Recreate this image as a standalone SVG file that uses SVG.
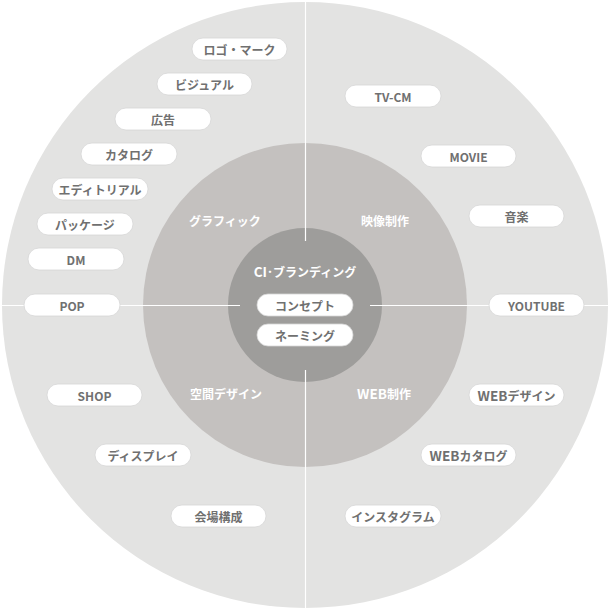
<svg xmlns="http://www.w3.org/2000/svg" width="611" height="612" viewBox="0 0 611 612">
<style>
.pill rect{fill:#ffffff;stroke:#d6d6d6;stroke-width:0.8}
.pill text{font-family:"Noto Sans CJK JP","Noto Sans",sans-serif;font-weight:bold;font-size:12px;fill:#707070;text-anchor:middle;dominant-baseline:central}
.cat{font-family:"Noto Sans CJK JP","Noto Sans",sans-serif;font-weight:bold;font-size:12px;fill:#ffffff;text-anchor:middle;dominant-baseline:central}
.lat{font-size:13.5px}
.conn line{stroke:#ffffff;stroke-width:1.2}
</style>
<rect width="611" height="612" fill="#ffffff"/>
<g id="rings">
<circle cx="305" cy="305" r="303" fill="#e3e3e2"/>
<circle cx="305" cy="305" r="162" fill="#c4c1bf"/>
<circle cx="305" cy="305" r="77" fill="#9e9d9b"/>
</g>
<g class="conn" id="connectors">
<line x1="305.5" y1="0" x2="305.5" y2="241"/>
<line x1="305.5" y1="370" x2="305.5" y2="612"/>
<line x1="0" y1="305.5" x2="240" y2="305.5"/>
<line x1="370" y1="305.5" x2="611" y2="305.5"/>
</g>
<g id="categories">
<text class="cat" x="305" y="271"><tspan class="lat">CI</tspan>･ブランディング</text>
<text class="cat" x="225" y="220">グラフィック</text>
<text class="cat" x="385" y="220">映像制作</text>
<text class="cat" x="226" y="393">空間デザイン</text>
<text class="cat" x="384" y="393"><tspan class="lat">WEB</tspan>制作</text>
</g>
<g id="n-concept" class="pill"><rect x="257" y="294" width="96" height="22" rx="11"/><text x="305" y="305">コンセプト</text></g>
<g id="n-naming" class="pill"><rect x="257" y="324" width="96" height="22" rx="11"/><text x="305" y="335">ネーミング</text></g>
<g id="n-logo" class="pill"><rect x="192" y="38" width="95" height="22" rx="11"/><text x="239.5" y="49">ロゴ・マーク</text></g>
<g id="n-visual" class="pill"><rect x="157" y="73" width="95" height="22" rx="11"/><text x="204.5" y="84">ビジュアル</text></g>
<g id="n-ad" class="pill"><rect x="115" y="108" width="96" height="22" rx="11"/><text x="163" y="119">広告</text></g>
<g id="n-catalog" class="pill"><rect x="81" y="143" width="96" height="22" rx="11"/><text x="129" y="154">カタログ</text></g>
<g id="n-editorial" class="pill"><rect x="52" y="178" width="96" height="22" rx="11"/><text x="100" y="189">エディトリアル</text></g>
<g id="n-package" class="pill"><rect x="37" y="213" width="96" height="22" rx="11"/><text x="85" y="224">パッケージ</text></g>
<g id="n-dm" class="pill"><rect x="28" y="248" width="96" height="22" rx="11"/><text class="lat" x="76" y="259">DM</text></g>
<g id="n-pop" class="pill"><rect x="24" y="294" width="96" height="22" rx="11"/><text class="lat" x="72" y="305">POP</text></g>
<g id="n-tvcm" class="pill"><rect x="345" y="85" width="96" height="22" rx="11"/><text class="lat" x="393" y="96">TV-CM</text></g>
<g id="n-movie" class="pill"><rect x="421" y="145" width="95" height="22" rx="11"/><text class="lat" x="468.5" y="156">MOVIE</text></g>
<g id="n-music" class="pill"><rect x="469" y="205" width="95" height="22" rx="11"/><text x="516.5" y="216">音楽</text></g>
<g id="n-youtube" class="pill"><rect x="489" y="294" width="95" height="22" rx="11"/><text class="lat" x="536.5" y="305">YOUTUBE</text></g>
<g id="n-shop" class="pill"><rect x="47" y="384" width="95" height="22" rx="11"/><text class="lat" x="94.5" y="395">SHOP</text></g>
<g id="n-display" class="pill"><rect x="95" y="444" width="96" height="22" rx="11"/><text x="143" y="455">ディスプレイ</text></g>
<g id="n-venue" class="pill"><rect x="171" y="505" width="95" height="22" rx="11"/><text x="218.5" y="516">会場構成</text></g>
<g id="n-webdesign" class="pill"><rect x="469" y="384" width="95" height="22" rx="11"/><text x="516.5" y="395"><tspan class="lat">WEB</tspan>デザイン</text></g>
<g id="n-webcatalog" class="pill"><rect x="421" y="444" width="95" height="22" rx="11"/><text x="468.5" y="455"><tspan class="lat">WEB</tspan>カタログ</text></g>
<g id="n-instagram" class="pill"><rect x="345" y="505" width="96" height="22" rx="11"/><text x="393" y="516">インスタグラム</text></g>
</svg>
